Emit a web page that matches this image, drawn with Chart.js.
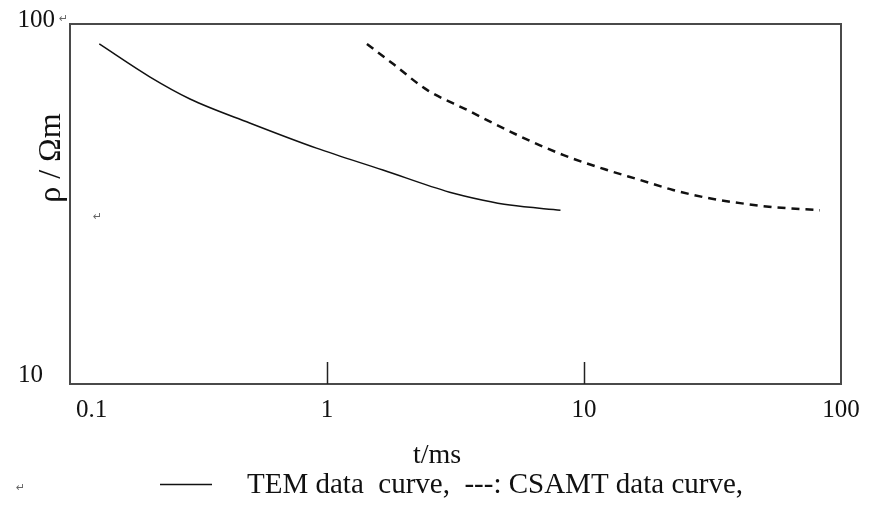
<!DOCTYPE html>
<html>
<head>
<meta charset="utf-8">
<script src="https://cdn.jsdelivr.net/npm/chart.js@4.4.1/dist/chart.umd.min.js"></script>
<style>
  html, body { margin: 0; padding: 0; background: #fff; }
  canvas { display: block; }
</style>
</head>
<body>
<canvas id="chart" width="877" height="525"></canvas>
<script>
// TEM curve (solid)
const temTime = [0.13, 0.205, 0.293, 0.50, 0.91, 1.65, 3.0, 4.05, 5.15, 8.1];
const temRho  = [88, 71.2, 61.9, 53.1, 45.2, 39.3, 34.1, 32.4, 31.4, 30.4];

// CSAMT curve (dashed)
const csamtTime = [1.43, 1.79, 2.45, 3.51, 5.49, 8.28, 12.3, 16.5, 22.2, 30.1, 40.5, 54.4, 82.8];
const csamtRho  = [88, 77.9, 65.6, 57.7, 49.2, 43.3, 39.3, 36.9, 34.6, 32.9, 31.8, 31.0, 30.4];

// axis labels
const xTickValues = [0.1, 1, 10, 100];
const xTickLabels = ['0.1', '1', '10', '100'];
const xInnerTicks = [1, 10];
const yTickValues = [100, 10];
const yTickLabels = ['100', '10'];

const serif = '"Liberation Serif", "Times New Roman", serif';

const toPoints = (xs, ys) => xs.map((x, i) => ({ x: x, y: ys[i] }));

// frame, inner tick marks, labels and legend line
const annotPlugin = {
    id: 'annot',
    afterDraw(chart) {
        const { ctx, chartArea: a, scales: { x, y } } = chart;
        ctx.save();

        // box
        ctx.strokeStyle = '#4a4a4a';
        ctx.lineWidth = 2;
        ctx.strokeRect(a.left, a.top, a.right - a.left, a.bottom - a.top);

        // short ticks pointing up from the bottom axis
        ctx.strokeStyle = '#222';
        ctx.lineWidth = 1.5;
        xInnerTicks.forEach(v => {
            const px = Math.round(x.getPixelForValue(v)) + 0.5;
            ctx.beginPath();
            ctx.moveTo(px, a.bottom);
            ctx.lineTo(px, a.bottom - 22);
            ctx.stroke();
        });

        ctx.fillStyle = '#111';
        ctx.font = '25px ' + serif;
        ctx.textBaseline = 'alphabetic';

        // x tick labels
        xTickValues.forEach((v, i) => {
            const px = x.getPixelForValue(v);
            ctx.textAlign = i === 0 ? 'left' : 'center';
            ctx.fillText(xTickLabels[i], i === 0 ? px + 6 : px, a.bottom + 33);
        });

        // y tick labels
        ctx.textAlign = 'right';
        ctx.fillText(yTickLabels[0], a.left - 15, y.getPixelForValue(yTickValues[0]) + 3);
        ctx.fillText(yTickLabels[1], a.left - 27, y.getPixelForValue(yTickValues[1]) - 2);

        // y title (rotated)
        ctx.save();
        ctx.translate(60, 158);
        ctx.rotate(-Math.PI / 2);
        ctx.textAlign = 'center';
        ctx.font = '32px ' + serif;
        ctx.fillText('ρ / Ωm', 0, 0);
        ctx.restore();

        // x title
        ctx.textAlign = 'center';
        ctx.font = '28px ' + serif;
        ctx.fillText('t/ms', 437, 463);

        // legend
        ctx.strokeStyle = '#111';
        ctx.lineWidth = 1.5;
        ctx.beginPath();
        ctx.moveTo(160, 484.5);
        ctx.lineTo(212, 484.5);
        ctx.stroke();
        ctx.textAlign = 'left';
        ctx.font = '29px ' + serif;
        ctx.fillText('TEM data  curve,  ---: CSAMT data curve,', 247, 493);

        // paragraph marks left over from the source document
        ctx.fillStyle = '#666';
        ctx.font = '11px "DejaVu Sans"';
        ctx.fillText('↵', 59, 22);
        ctx.fillText('↵', 93, 220);
        ctx.fillText('↵', 16, 491);

        ctx.restore();
    }
};

new Chart(document.getElementById('chart'), {
    type: 'line',
    data: {
        datasets: [
            {
                label: 'TEM data curve',
                data: toPoints(temTime, temRho),
                borderColor: '#111',
                borderWidth: 1.5,
                pointRadius: 0,
                cubicInterpolationMode: 'monotone',
                fill: false
            },
            {
                label: 'CSAMT data curve',
                data: toPoints(csamtTime, csamtRho),
                borderColor: '#111',
                borderWidth: 2.5,
                borderDash: [8, 6],
                pointRadius: 0,
                cubicInterpolationMode: 'monotone',
                fill: false
            }
        ]
    },
    options: {
        responsive: false,
        animation: false,
        layout: { padding: { left: 70, right: 36, top: 24, bottom: 141 } },
        plugins: {
            legend: { display: false },
            tooltip: { enabled: false }
        },
        scales: {
            x: {
                type: 'logarithmic',
                min: 0.1,
                max: 100,
                grid: { display: false, drawTicks: false },
                border: { display: false },
                ticks: { display: false }
            },
            y: {
                type: 'logarithmic',
                min: 10,
                max: 100,
                grid: { display: false, drawTicks: false },
                border: { display: false },
                ticks: { display: false }
            }
        }
    },
    plugins: [annotPlugin]
});
</script>
</body>
</html>
